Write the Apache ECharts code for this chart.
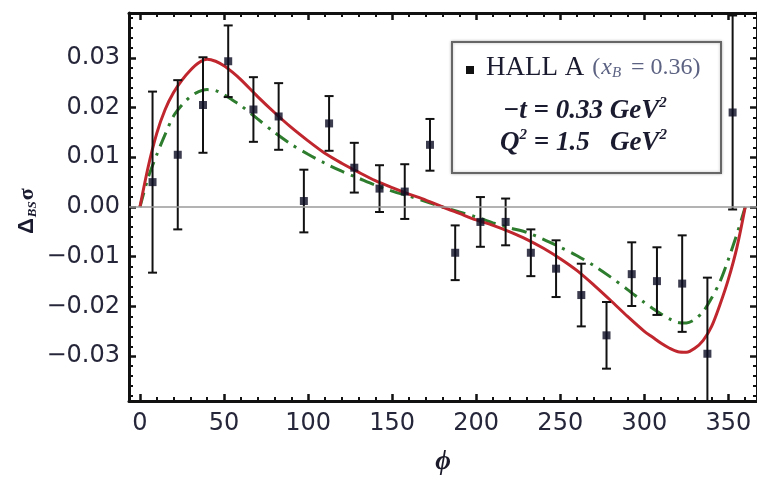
<!DOCTYPE html>
<html><head><meta charset="utf-8">
<script src="https://cdn.jsdelivr.net/npm/echarts@6/dist/echarts.min.js"></script>
<style>html,body{margin:0;padding:0;background:#fff}#c{width:757px;height:481px}</style>
</head><body><div id="c"></div>
<script>
// ---- data ----
const phiData = [7.5, 22.5, 37.5, 52.5, 67.5, 82.5, 97.5, 112.5, 127.5, 142.5, 157.5, 172.5,
                 187.5, 202.5, 217.5, 232.5, 247.5, 262.5, 277.5, 292.5, 307.5, 322.5, 337.5, 352.5];
const asymData = [0.0050, 0.0105, 0.0205, 0.0293, 0.0196, 0.0182, 0.0012, 0.0168, 0.0079, 0.0037, 0.0031, 0.0125,
                  -0.0092, -0.0030, -0.0030, -0.0092, -0.0124, -0.0177, -0.0258, -0.0135, -0.0149, -0.0154, -0.0295, 0.0190];
const errData = [0.0182, 0.0150, 0.0096, 0.0072, 0.0065, 0.0067, 0.0063, 0.0055, 0.0050, 0.0047, 0.0055, 0.0052,
                 0.0055, 0.0050, 0.0047, 0.0047, 0.0057, 0.0063, 0.0067, 0.0064, 0.0068, 0.0097, 0.0153, 0.0195];
const curvePhi = [0, 5, 10, 15, 20, 25, 30, 35, 40, 45, 50, 55, 60, 70, 80, 90, 100, 110, 120, 130, 140, 150, 160, 170,
                  180, 190, 200, 210, 220, 230, 240, 250, 260, 270, 280, 290, 300, 305, 310, 315, 320, 325, 330, 335, 340, 345, 350, 355, 360];
const redCurve = [0, 0.0082, 0.0148, 0.0196, 0.0230, 0.0255, 0.0275, 0.0290, 0.0297, 0.0293, 0.0284, 0.0271, 0.0256,
                  0.0222, 0.0190, 0.0160, 0.0133, 0.0108, 0.0088, 0.0070, 0.0053, 0.0039, 0.0026, 0.0014,
                  0, -0.0013, -0.0026, -0.0037, -0.0050, -0.0065, -0.0083, -0.0104, -0.0128, -0.0157, -0.0188, -0.0220,
                  -0.0250, -0.0262, -0.0274, -0.0284, -0.0291, -0.0292, -0.0284, -0.0268, -0.0240, -0.0196, -0.0145, -0.0082, 0];
const greenCurve = [0, 0.0060, 0.0105, 0.0146, 0.0183, 0.0205, 0.0222, 0.0232, 0.0236, 0.0234, 0.0226, 0.0215, 0.0204,
                    0.0177, 0.0150, 0.0126, 0.0106, 0.0088, 0.0072, 0.0058, 0.0044, 0.0032, 0.0022, 0.0011,
                    0, -0.0010, -0.0020, -0.0032, -0.0042, -0.0051, -0.0065, -0.0081, -0.0098, -0.0118, -0.0141, -0.0166,
                    -0.0192, -0.0204, -0.0215, -0.0225, -0.0232, -0.0233, -0.0226, -0.0210, -0.0183, -0.0150, -0.0105, -0.0055, 0];
const xTickLabels = [0, 50, 100, 150, 200, 250, 300, 350];
const yTickLabels = [-0.03, -0.02, -0.01, 0, 0.01, 0.02, 0.03];

// ---- minor tick positions ----
const xMinor = [];
for (let v = 0; v <= 360; v += 10) if (v % 50 !== 0) xMinor.push(v);
const yMinor = [];
for (let k = -19; k <= 19; k++) if (k % 5 !== 0) yMinor.push(+(k * 0.002).toFixed(3));

const X_MIN = -6.5, X_MAX = 367, Y_MIN = -0.039, Y_MAX = 0.039;
const INK = '#111';

function xAx(pos, values, len, width, labels, line) {
  return {
    type: 'value', position: pos, min: X_MIN, max: X_MAX,
    axisLine: { show: line, onZero: false, lineStyle: { color: INK, width: 3 } },
    axisTick: { show: true, inside: true, length: len, lineStyle: { color: INK, width: width }, customValues: values },
    axisLabel: labels ? { show: true, customValues: values, margin: 11, color: '#26263a',
      fontFamily: 'DejaVu Sans', fontSize: 24 } : { show: false },
    splitLine: { show: false }
  };
}
function yAx(pos, values, len, width, labels, line) {
  return {
    type: 'value', position: pos, min: Y_MIN, max: Y_MAX,
    axisLine: { show: line, onZero: false, lineStyle: { color: INK, width: 3 } },
    axisTick: { show: true, inside: true, length: len, lineStyle: { color: INK, width: width }, customValues: values },
    axisLabel: labels ? { show: true, customValues: values, margin: 9, color: '#26263a',
      fontFamily: 'DejaVu Sans', fontSize: 24,
      formatter: v => (v < -1e-9 ? '\u2212' : '') + Math.abs(v).toFixed(2) } : { show: false },
    splitLine: { show: false }
  };
}

const xAxes = [xAx('bottom', xTickLabels, 7, 2.5, true, true), xAx('bottom', xMinor, 4, 2, false, false),
               xAx('top', xTickLabels, 7, 2.5, false, true), xAx('top', xMinor, 4, 2, false, false)];
xAxes[0].name = '\u03d5';
xAxes[0].nameLocation = 'middle';
xAxes[0].nameGap = 48;
xAxes[0].nameTextStyle = { fontFamily: 'Liberation Serif', fontStyle: 'italic', fontWeight: 'bold', fontSize: 27, color: '#1a1a2a' };
const yAxes = [yAx('left', yTickLabels, 7, 2.5, true, true), yAx('left', yMinor, 4, 2, false, false),
               yAx('right', yTickLabels, 7, 2.5, false, true), yAx('right', yMinor, 4, 2, false, false)];

// ---- text layout helper ----
const mctx = document.createElement('canvas').getContext('2d');
function piecesToText(x0, yMid, pieces, z) {
  let x = x0; const out = [];
  pieces.forEach(p => {
    const st = p.style || 'normal', wt = p.weight || 'normal';
    mctx.font = st + ' ' + wt + ' ' + p.size + 'px "' + p.family + '"';
    const w = mctx.measureText(p.t).width;
    x += (p.dx || 0);
    out.push({ type: 'text', x: x, y: yMid + (p.dy || 0), z: z, silent: true,
      style: { text: p.t, fontFamily: p.family, fontSize: p.size, fontStyle: st, fontWeight: wt,
               fill: p.color, align: 'left', verticalAlign: 'middle' } });
    x += w;
  });
  return out;
}

const serif = 'Liberation Serif';
const dark = '#1b1b30', soft = '#5c6282';
const legendTexts = [].concat(
  piecesToText(486, 67.5, [
    { t: 'HALL A', family: serif, size: 27, color: dark },
    { t: '(', family: serif, size: 24, color: soft, dx: 8 },
    { t: 'x', family: serif, size: 24, color: soft, style: 'italic', dx: 1 },
    { t: 'B', family: serif, size: 15, color: soft, style: 'italic', dy: 6 },
    { t: ' = 0.36)', family: serif, size: 24, color: soft, dx: 4 }
  ], 102),
  piecesToText(503, 111, [
    { t: '\u2212t = 0.33 GeV', family: serif, size: 27, color: dark, style: 'italic', weight: 'bold' },
    { t: '2', family: serif, size: 15, color: dark, style: 'italic', weight: 'bold', dy: -8 }
  ], 102),
  piecesToText(500, 143.5, [
    { t: 'Q', family: serif, size: 27, color: dark, style: 'italic', weight: 'bold' },
    { t: '2', family: serif, size: 15, color: dark, style: 'italic', weight: 'bold', dy: -8 },
    { t: ' = 1.5   GeV', family: serif, size: 27, color: dark, style: 'italic', weight: 'bold' },
    { t: '2', family: serif, size: 15, color: dark, style: 'italic', weight: 'bold', dy: -8 }
  ], 102)
);

const yNamePieces = piecesToText(0, -7, [
  { t: '\u0394', family: 'Liberation Sans', size: 22, color: dark, weight: 'bold' },
  { t: 'BS', family: serif, size: 13, color: dark, style: 'italic', weight: 'bold', dy: 6, dx: 1 },
  { t: '\u03c3', family: serif, size: 22, color: dark, weight: 'bold', dx: 1 }
], 50);

const chart = echarts.init(document.getElementById('c'), null, { renderer: 'canvas' });
chart.setOption({
  animation: false,
  backgroundColor: '#fff',
  grid: { left: 129, right: 0, top: 13, bottom: 80, containLabel: false },
  xAxis: xAxes,
  yAxis: yAxes,
  graphic: [
    { type: 'rect', z: 100, silent: true, shape: { x: 452, y: 42, width: 269, height: 131 },
      style: { fill: '#fff', stroke: '#666', lineWidth: 2, shadowBlur: 3, shadowColor: 'rgba(0,0,0,0.25)' } },
    { type: 'rect', z: 101, silent: true, shape: { x: 466, y: 66, width: 8, height: 8 }, style: { fill: '#111' } },
    ...legendTexts,
    { type: 'group', x: 34, y: 234, rotation: Math.PI / 2, children: yNamePieces }
  ],
  series: [
    { name: 'zero', type: 'line', data: [], z: 1, silent: true,
      markLine: { silent: true, symbol: ['none', 'none'], label: { show: false },
        lineStyle: { color: '#9a9a9a', width: 1.5, type: 'solid' }, data: [{ yAxis: 0 }] } },
    { name: 'model2', type: 'line', z: 2, smooth: 0.3, showSymbol: false, symbol: 'none',
      data: curvePhi.map((p, i) => [p, greenCurve[i]]),
      lineStyle: { color: '#2e7d2e', width: 3, type: [15, 7, 3, 7] } },
    { name: 'model1', type: 'line', z: 3, smooth: 0.3, showSymbol: false, symbol: 'none',
      data: curvePhi.map((p, i) => [p, redCurve[i]]),
      lineStyle: { color: '#c0262d', width: 3 } },
    { name: 'errors', type: 'custom', z: 4, clip: true,
      data: phiData.map((p, i) => [p, asymData[i], errData[i]]),
      encode: { x: 0, y: 1 },
      renderItem: function (params, api) {
        const x = api.value(0), y = api.value(1), e = api.value(2);
        const t = api.coord([x, y + e]), b = api.coord([x, y - e]);
        const hw = 4.5, s = { stroke: '#111', lineWidth: 2 };
        return { type: 'group', children: [
          { type: 'line', shape: { x1: t[0], y1: t[1], x2: b[0], y2: b[1] }, style: s },
          { type: 'line', shape: { x1: t[0] - hw, y1: t[1], x2: t[0] + hw, y2: t[1] }, style: s },
          { type: 'line', shape: { x1: b[0] - hw, y1: b[1], x2: b[0] + hw, y2: b[1] }, style: s }
        ] };
      } },
    { name: 'HALL A', type: 'scatter', z: 5, symbol: 'rect', symbolSize: 8,
      data: phiData.map((p, i) => [p, asymData[i]]),
      itemStyle: { color: '#0c0c24' } }
  ]
});
</script>
</body></html>
